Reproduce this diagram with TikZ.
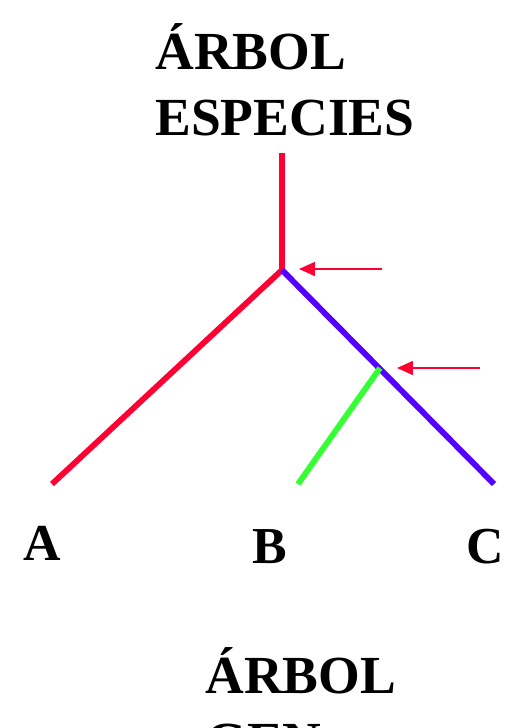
\documentclass[tikz,border=0pt]{standalone}
\usepackage{fontspec}
\setmainfont{Liberation Serif}
\usepackage{tikz}
\usepackage{xcolor}
\usetikzlibrary{arrows.meta, positioning, calc}
\definecolor{cRama}{RGB}{255,0,51}
\definecolor{cAzul}{RGB}{85,0,255}
\definecolor{cVerde}{RGB}{51,255,51}
\tikzset{
	rama/.style     ={line width=3.3pt},
	flecha/.style   ={-{Triangle[length=0.32cm, width=0.28cm]}, cRama, line width=0.9pt},
	titulo/.style   ={font=\bfseries\fontsize{30.5}{37}\selectfont, inner sep=0pt, anchor=base west},
	hoja/.style     ={font=\bfseries\fontsize{29.5}{34}\selectfont, inner sep=0pt, anchor=base},
}

\begin{document}
\begin{tikzpicture}[x=0.02cm, y=-0.02cm]
	\useasboundingbox (0,0) rectangle (510,728);
	% arbol de especies
	\coordinate (raiz) at (282,153);
	\coordinate (n1) at (282,270);
	\coordinate (n2) at (380,368);
	\coordinate (tA) at (52,484);
	\coordinate (tB) at (298,484);
	\coordinate (tC) at (494,484);
	\draw[rama, cRama] (raiz) -- (n1) -- (tA);
	\draw[rama, cAzul] (n1) -- (tC);
	\draw[rama, cVerde] (n2) -- (tB);
	% flechas
	\coordinate (f1) at (382,269);
	\coordinate (f2) at (480,368);
	\draw[flecha] (f1) -- ($(n1)+(17,-1)$);
	\draw[flecha] (f2) -- ($(n2)+(17,0)$);
	\node[titulo] (tit1) at (155,69) {ÁRBOL};
	\node[titulo] (tit2) at (155,135) {ESPECIES};
	\node[hoja] (A) at (42,560) {A};
	\node[hoja] (B) at (270,563) {B};
	\node[hoja] (C) at (485,563) {C};
	% arbol de genes
	\node[titulo] (tit3) at (205,693) {ÁRBOL};
	\node[titulo] (tit4) at (205,759) {GEN};
\end{tikzpicture}
\end{document}
